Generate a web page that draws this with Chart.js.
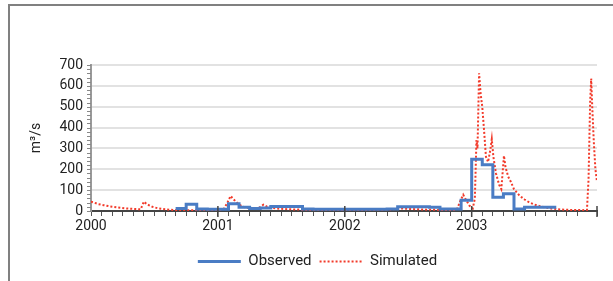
<!DOCTYPE html>
<html>
<head>
<meta charset="utf-8">
<script src="https://cdn.jsdelivr.net/npm/chart.js@4.4.0/dist/chart.umd.min.js"></script>
<style>
  html, body { margin: 0; padding: 0; background: #fff; }
  #wrap { position: relative; width: 613px; height: 281px; overflow: hidden; }
  #frame { position: absolute; left: 8px; top: 4px; width: 700px; height: 400px;
           border-top: 2px solid #808080; border-left: 2px solid #808080; }
  canvas { position: absolute; left: 0; top: 0; }
</style>
</head>
<body>
<div id="wrap">
  <div id="frame"></div>
  <canvas id="chart" width="613" height="281"></canvas>
</div>
<script>
// x values are months since Jan 2000
const yearLabels = ['2000', '2001', '2002', '2003'];

// observed: monthly mean flow, value holds from month start to next month
const obsMonth = [8, 9, 10, 11, 12, 13, 14, 15, 16, 17, 18, 19, 20, 21, 22, 23,
  24, 25, 26, 27, 28, 29, 30, 31, 32, 33, 34, 35, 36, 37, 38, 39, 40, 41, 42, 43, 44];
const obsFlow = [12, 32, 10, 8, 8, 35, 18, 12, 14, 22, 22, 22, 10, 8, 8, 8,
  8, 8, 8, 8, 10, 20, 20, 20, 18, 10, 10, 52, 248, 222, 66, 83, 10, 18, 18, 18, 18];

// simulated
const simMonth = [0, 0.3, 0.7, 1.2, 1.8, 2.5, 3.2, 4.0, 4.7, 5.0, 5.3, 5.8, 6.4, 7.0, 7.8, 8.5, 9.5, 10.5, 11.5,
  12.2, 12.6, 12.9, 13.2, 13.5, 13.9, 14.3, 14.8, 15.3, 15.9, 16.3, 16.6, 17.0, 17.6, 18.5, 19.5, 20.5, 21.5, 22.5, 23.5,
  24.5, 25.5, 26.5, 27.5, 28.5, 29.3, 30.0, 31.0, 32.0, 33.0, 34.0, 34.6, 34.9, 35.2, 35.5, 35.8,
  36.1, 36.3, 36.45, 36.55, 36.7, 36.85, 37.0, 37.15, 37.35, 37.55, 37.75, 37.9, 38.05, 38.3, 38.6, 38.8,
  38.95, 39.05, 39.2, 39.45, 39.7, 40.0, 40.5, 41.0, 41.5, 42.0, 42.5, 43.0, 43.5, 44.0, 44.5, 45.5, 46.5,
  46.9, 47.05, 47.2, 47.3, 47.4, 47.55, 47.7, 47.85];
const simFlow = [45, 40, 33, 28, 22, 17, 13, 10, 8, 45, 32, 20, 12, 8, 5, 4, 3, 3, 4,
  6, 12, 40, 72, 55, 35, 22, 15, 12, 15, 30, 22, 15, 12, 9, 7, 5, 4, 3, 3,
  3, 4, 5, 6, 8, 12, 10, 8, 6, 5, 4, 6, 45, 78, 50, 25,
  12, 60, 340, 300, 660, 560, 500, 400, 260, 235, 290, 345, 260, 180, 125, 105,
  200, 265, 210, 165, 140, 105, 75, 55, 40, 30, 22, 17, 12, 9, 7, 5, 4,
  5, 150, 520, 635, 500, 330, 200, 140];

const yTicks = [0, 100, 200, 300, 400, 500, 600, 700];

const obsPts = obsMonth.map((m, i) => ({ x: m, y: obsFlow[i] }));
const simPts = simMonth.map((m, i) => ({ x: m, y: simFlow[i] }));

// minor ticks on the y axis and longer year ticks on the x axis
const extraTicks = {
  id: 'extraTicks',
  afterLayout(chart) {
    // legend sits a little right of the plot centre in the original
    chart.legend.left += 5;
    chart.legend.right += 5;
  },
  afterDraw(chart) {
    const ctx = chart.ctx, xs = chart.scales.x, ys = chart.scales.y;
    const ax = chart.chartArea.left, by = chart.chartArea.bottom;
    ctx.save();
    ctx.strokeStyle = '#888';
    ctx.lineWidth = 1;
    for (let v = 0; v <= 700; v += 20) {
      const py = Math.round(ys.getPixelForValue(v)) + 0.5;
      ctx.beginPath(); ctx.moveTo(ax - 4, py); ctx.lineTo(ax, py); ctx.stroke();
    }
    ctx.strokeStyle = '#444';
    ctx.lineWidth = 1.5;
    [12, 24, 36, 47.85].forEach(m => {
      const px = xs.getPixelForValue(m);
      ctx.beginPath(); ctx.moveTo(px, by - 5); ctx.lineTo(px, by + 6); ctx.stroke();
    });
    ctx.restore();
  }
};

const config = {
  type: 'line',
  data: {
    datasets: [
      {
        label: 'Observed',
        data: obsPts,
        stepped: 'before',
        borderColor: '#4a7cc4',
        backgroundColor: '#4a7cc4',
        borderWidth: 3,
        pointRadius: 0,
        fill: false
      },
      {
        label: 'Simulated',
        data: simPts,
        borderColor: '#f23a2a',
        backgroundColor: '#f23a2a',
        borderWidth: 2,
        borderDash: [2, 2],
        pointRadius: 0,
        tension: 0,
        fill: false
      }
    ]
  },
  options: {
    responsive: false,
    animation: false,
    layout: { padding: { left: 28, right: 16, top: 65, bottom: 2 } },
    plugins: {
      tooltip: { enabled: false },
      legend: {
        position: 'bottom',
        labels: {
          usePointStyle: true,
          pointStyle: 'line',
          pointStyleWidth: 43,
          padding: 8,
          color: '#222',
          font: { family: 'Roboto', size: 15 },
          generateLabels: chart => chart.data.datasets.map((ds, i) => ({
            text: ds.label,
            datasetIndex: i,
            strokeStyle: ds.borderColor,
            fillStyle: ds.borderColor,
            lineWidth: i === 0 ? 3 : 2,
            lineDash: i === 0 ? [] : [2, 2],
            pointStyle: 'line',
            fontColor: '#222'
          }))
        }
      }
    },
    scales: {
      x: {
        type: 'linear',
        min: 0,
        max: 47.85,
        afterFit: s => { s.height = 35; },
        border: { color: '#444', width: 2 },
        grid: { drawOnChartArea: false, tickLength: 5, tickColor: '#555', tickWidth: 1 },
        ticks: {
          stepSize: 1,
          autoSkip: false,
          maxRotation: 0,
          padding: 2,
          color: '#222',
          font: { family: 'Roboto', size: 14 },
          callback: v => (v % 12 === 0 ? yearLabels[v / 12] : '')
        }
      },
      y: {
        min: 0,
        max: 700,
        afterFit: s => { s.width = 63; },
        afterBuildTicks: s => { s.ticks = yTicks.map(v => ({ value: v })); },
        border: { color: '#999', width: 2 },
        grid: { color: '#e2e2e2', lineWidth: 2, drawTicks: false },
        ticks: {
          padding: 8,
          color: '#222',
          font: { family: 'Roboto', size: 14 }
        },
        title: {
          display: true,
          text: 'm³/s',
          color: '#222',
          font: { family: 'Roboto', size: 14 },
          padding: 0
        }
      }
    }
  },
  plugins: [extraTicks]
};

new Chart(document.getElementById('chart'), config);
</script>
</body>
</html>
